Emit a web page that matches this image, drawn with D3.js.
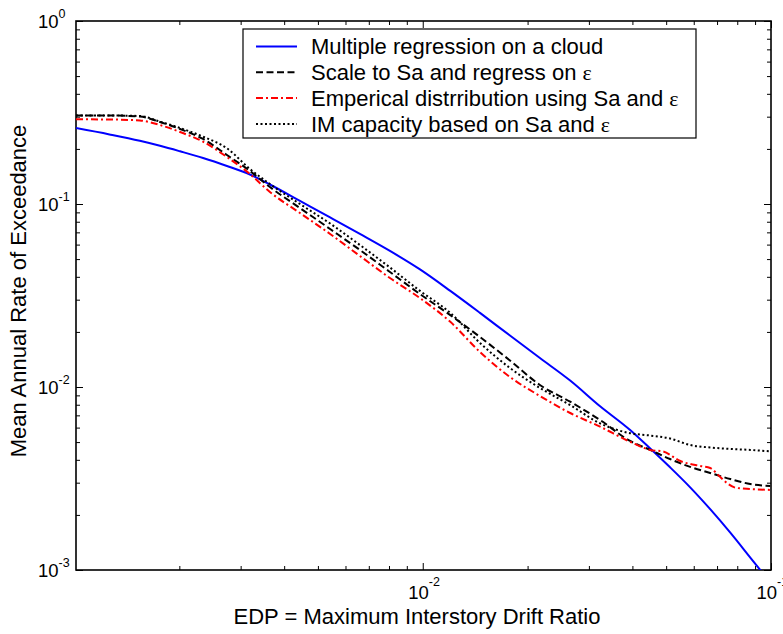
<!DOCTYPE html>
<html>
<head>
<meta charset="utf-8">
<script src="https://cdn.jsdelivr.net/npm/d3@7"></script>
<style>
  body { margin: 0; background: #fff; }
  svg { font-family: "Liberation Sans", Arial, Helvetica, sans-serif; }
</style>
</head>
<body>
<svg id="chart" width="783" height="634"></svg>
<script>
// drift ratio grid shared by three of the curves
const drift = [0.00101, 0.00126, 0.00154, 0.00176, 0.00201, 0.00234, 0.00274, 0.00319, 0.00364, 0.00444,
  0.00542, 0.0066, 0.00805, 0.00982, 0.0120, 0.0146, 0.0178, 0.0217, 0.0265, 0.0323,
  0.0394, 0.0450, 0.0513, 0.0586, 0.0669, 0.0764, 0.0872, 0.0995];

const cloudRate = [0.260, 0.240, 0.2215, 0.208, 0.194, 0.1784, 0.1613, 0.1449, 0.1278, 0.1039,
  0.0844, 0.0686, 0.0554, 0.0439, 0.0335, 0.0254, 0.0191, 0.0144, 0.01085, 0.00785,
  0.00582, 0.00461, 0.00364, 0.00283, 0.00215, 0.00160, 0.00117, 0.000855];

const scaleRate = [0.3045, 0.3045, 0.3007, 0.2806, 0.2569, 0.2266, 0.1852, 0.1515, 0.1238, 0.0951,
  0.0730, 0.0561, 0.0425, 0.0322, 0.0247, 0.01876, 0.01396, 0.01026, 0.00831, 0.00660,
  0.00507, 0.00453, 0.00404, 0.00366, 0.00339, 0.00314, 0.00295, 0.00288];

const imRate = [0.3045, 0.3045, 0.3026, 0.2817, 0.2602, 0.2332, 0.2016, 0.1553, 0.1286, 0.1000,
  0.0782, 0.0597, 0.0450, 0.0335, 0.0254, 0.0174, 0.0127, 0.00988, 0.00797, 0.00633,
  0.00559, 0.00543, 0.00523, 0.00482, 0.00467, 0.00459, 0.00453, 0.00445];

// empirical curve has a few extra points near the tail
const empDrift = [0.00101, 0.00126, 0.00154, 0.00176, 0.00201, 0.00234, 0.00274, 0.00319, 0.00364, 0.00444,
  0.00542, 0.0066, 0.00805, 0.00982, 0.0120, 0.0146, 0.0178, 0.0217, 0.0265, 0.0323,
  0.0394, 0.0450, 0.0490, 0.0549, 0.0627, 0.0669, 0.0715, 0.0754, 0.0795, 0.0872, 0.0995];
const empRate = [0.2903, 0.2896, 0.2860, 0.2702, 0.2474, 0.2190, 0.1806, 0.1458, 0.1163, 0.0893,
  0.0686, 0.0520, 0.0394, 0.0306, 0.0227, 0.01553, 0.01134, 0.00893, 0.00721, 0.00607,
  0.00502, 0.00453, 0.00444, 0.00394, 0.00370, 0.00361, 0.00322, 0.00295, 0.00281, 0.00277, 0.00274];

const seriesNames = [
  'Multiple regression on a cloud',
  'Scale to Sa and regress on ',
  'Emperical distrribution using Sa and ',
  'IM capacity based on Sa and '
];

const xMajor = [0.01, 0.1];
const yMajor = [1, 0.1, 0.01, 0.001];

const margin = { top: 21, right: 12, bottom: 64, left: 76 };
const width = 783 - margin.left - margin.right;
const height = 634 - margin.top - margin.bottom;

const x = d3.scaleLog().domain([0.00101, 0.1]).range([0, width]);
const y = d3.scaleLog().domain([0.001, 1]).range([height, 0]);

// minor ticks at 2..9 of every decade
function minors(lo, hi) {
  const out = [];
  for (let p = -4; p <= 0; p++) {
    for (let k = 2; k <= 9; k++) {
      const v = k * Math.pow(10, p);
      if (v > lo && v < hi) out.push(v);
    }
  }
  return out;
}

const svg = d3.select('#chart');
const g = svg.append('g').attr('transform', `translate(${margin.left},${margin.top})`);

g.append('clipPath').attr('id', 'plotClip')
  .append('rect').attr('width', width).attr('height', height);

// inward tick marks on all four sides
function ticks(axisFn, scale, values, size, transform) {
  return g.append('g')
    .attr('transform', transform)
    .call(axisFn(scale).tickValues(values).tickSizeInner(-size).tickSizeOuter(0).tickFormat(''))
    .call(s => s.select('.domain').remove());
}

ticks(d3.axisBottom, x, minors(0.00101, 0.1), 4, `translate(0,${height})`);
ticks(d3.axisTop, x, minors(0.00101, 0.1), 4, 'translate(0,0)');
ticks(d3.axisTop, x, xMajor, 7, 'translate(0,0)');
ticks(d3.axisLeft, y, minors(0.001, 1), 4, 'translate(0,0)');
ticks(d3.axisRight, y, minors(0.001, 1), 4, `translate(${width},0)`);
ticks(d3.axisRight, y, yMajor, 7, `translate(${width},0)`);

function powerLabel(sel, xOff, yOff, raise) {
  sel.selectAll('.tick text').each(function(d) {
    const t = d3.select(this);
    t.text(null).attr('dy', null).attr('x', xOff).attr('y', yOff)
      .attr('text-anchor', 'start').attr('fill', '#000');
    t.append('tspan').attr('font-size', 18.5).text('10');
    t.append('tspan').attr('font-size', 12.5).attr('dy', -raise)
      .text(String(Math.round(Math.log10(d))));
  });
}

const xAxis = g.append('g')
  .attr('transform', `translate(0,${height})`)
  .call(d3.axisBottom(x).tickValues(xMajor).tickSizeInner(-7).tickSizeOuter(0))
  .call(s => s.select('.domain').remove())
  .attr('font-family', null).attr('font-size', null);
powerLabel(xAxis, -15, 29, 13);

const yAxis = g.append('g')
  .call(d3.axisLeft(y).tickValues(yMajor).tickSizeInner(-7).tickSizeOuter(0))
  .call(s => s.select('.domain').remove())
  .attr('font-family', null).attr('font-size', null);
powerLabel(yAxis, -38, 6.5, 10);

g.selectAll('.tick line').attr('stroke', '#000').attr('stroke-width', 1);

// plot box
g.append('rect')
  .attr('width', width)
  .attr('height', height)
  .attr('fill', 'none')
  .attr('stroke', '#000')
  .attr('stroke-width', 1.6);

const line = d3.line()
  .x(d => x(d[0]))
  .y(d => y(d[1]))
  .curve(d3.curveMonotoneX);

const styles = [
  { color: '#0000ff', dash: null },
  { color: '#000000', dash: '7,3.5' },
  { color: '#ff0000', dash: '7,3,2,3' },
  { color: '#000000', dash: '2,2.5' }
];

const curves = [
  d3.zip(drift, cloudRate),
  d3.zip(drift, scaleRate),
  d3.zip(empDrift, empRate),
  d3.zip(drift, imRate)
];

curves.forEach((pts, i) => {
  g.append('path')
    .datum(pts)
    .attr('clip-path', 'url(#plotClip)')
    .attr('fill', 'none')
    .attr('stroke', styles[i].color)
    .attr('stroke-width', 2)
    .attr('stroke-dasharray', styles[i].dash)
    .attr('d', line);
});

// legend
const legend = svg.append('g').attr('transform', 'translate(243,29)');
legend.append('rect')
  .attr('width', 453).attr('height', 109)
  .attr('fill', '#fff').attr('stroke', '#000').attr('stroke-width', 1.2);

seriesNames.forEach((name, i) => {
  const cy = 17.5 + i * 25.8;
  legend.append('line')
    .attr('x1', 13).attr('x2', 54)
    .attr('y1', cy).attr('y2', cy)
    .attr('stroke', styles[i].color)
    .attr('stroke-width', 2)
    .attr('stroke-dasharray', styles[i].dash);
  const t = legend.append('text')
    .attr('x', 68).attr('y', cy).attr('dy', '0.36em')
    .attr('font-size', 22)
    .text(name);
  if (i > 0) {
    t.append('tspan')
      .attr('font-family', '"Liberation Serif", "Times New Roman", serif')
      .attr('font-size', 22)
      .text('ε');
  }
});

// axis titles
g.append('text')
  .attr('x', 341).attr('y', 603)
  .attr('text-anchor', 'middle')
  .attr('font-size', 22)
  .text('EDP = Maximum Interstory Drift Ratio');

g.append('text')
  .attr('transform', `translate(${26 - margin.left},${270}) rotate(-90)`)
  .attr('text-anchor', 'middle')
  .attr('font-size', 22)
  .text('Mean Annual Rate of Exceedance');
</script>
</body>
</html>
